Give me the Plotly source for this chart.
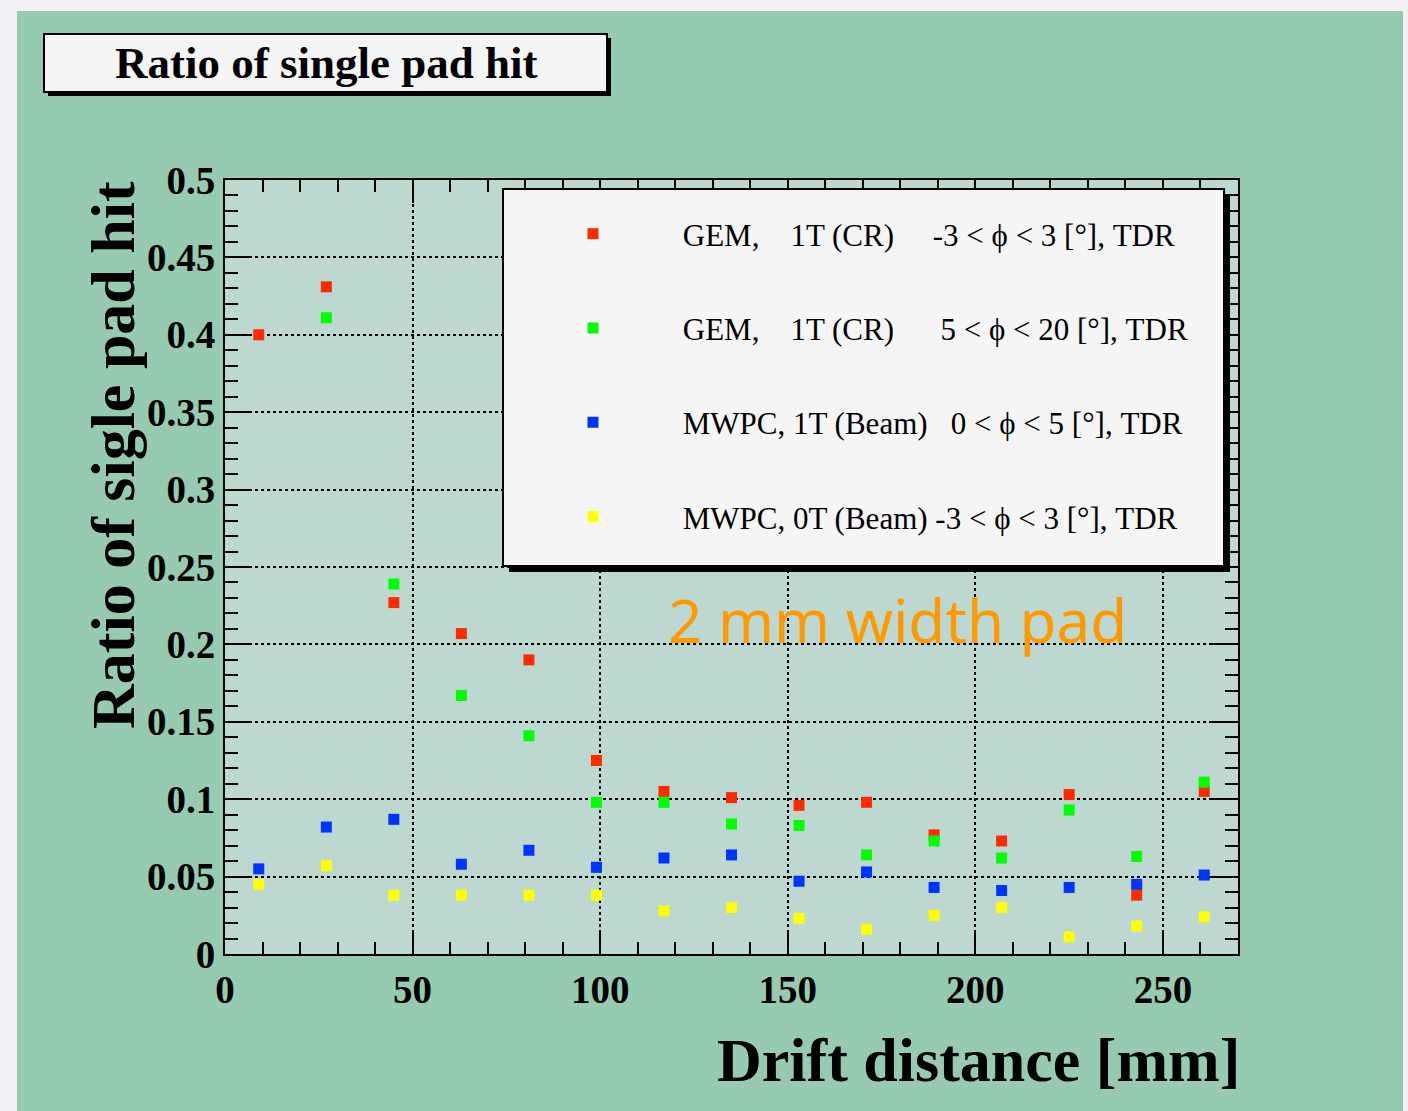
import plotly.graph_objects as go

# ---------------- data ----------------
drift_mm = [9, 27, 45, 63, 81, 99, 117, 135, 153, 171, 189, 207, 225, 243, 261]

gem_cr_m3_3 = [0.400, 0.431, 0.227, 0.207, 0.190, 0.125, 0.105, 0.101, 0.096, 0.098,
               0.077, 0.073, 0.103, 0.038, 0.105]
gem_cr_5_20 = [None, 0.411, 0.239, 0.167, 0.141, 0.098, 0.098, 0.084, 0.083, 0.064,
               0.073, 0.062, 0.093, 0.063, 0.111]
mwpc_1t_0_5 = [0.055, 0.082, 0.087, 0.058, 0.067, 0.056, 0.062, 0.064, 0.047, 0.053,
               0.043, 0.041, 0.043, 0.045, 0.051]
mwpc_0t_m3_3 = [0.045, 0.057, 0.038, 0.038, 0.038, 0.038, 0.028, 0.030, 0.023, 0.016,
                0.025, 0.030, 0.011, 0.018, 0.024]

NB = "\u00a0"
LEAD = NB * 9
series_names = [
    LEAD + "GEM," + NB * 4 + "1T (CR)" + NB * 5 + "-3 < \u03d5 < 3 [°], TDR",
    LEAD + "GEM," + NB * 4 + "1T (CR)" + NB * 5 + " 5 < \u03d5 < 20 [°], TDR",
    LEAD + "MWPC, 1T (Beam)" + NB * 3 + "0 < \u03d5 < 5 [°], TDR",
    LEAD + "MWPC, 0T (Beam) -3 < \u03d5 < 3 [°], TDR",
]
series_values = [gem_cr_m3_3, gem_cr_5_20, mwpc_1t_0_5, mwpc_0t_m3_3]
series_colors = ["#ff2a00", "#00ff00", "#0033ff", "#ffff00"]

y_tickvals = [0, 0.05, 0.1, 0.15, 0.2, 0.25, 0.3, 0.35, 0.4, 0.45, 0.5]
y_ticktext = ["0", "0.05", "0.1", "0.15", "0.2", "0.25", "0.3", "0.35", "0.4", "0.45", "0.5"]
x_tickvals = [0, 50, 100, 150, 200, 250]
x_ticktext = ["0", "50", "100", "150", "200", "250"]

# ---------------- layout geometry ----------------
W, H = 1408, 1111
L, R, T, B = 225, 1238, 180, 954


def px(x):
    return (x - L) / (R - L)


def py(y):
    return (B - y) / (B - T)


SERIF = "Liberation Serif, Times New Roman, serif"

fig = go.Figure()
for name, vals, col in zip(series_names, series_values, series_colors):
    fig.add_trace(go.Scatter(
        x=drift_mm, y=vals, mode="markers", name=name,
        legendgroup=name,
        marker=dict(symbol="square", size=11, color=col, line=dict(width=0)),
    ))

shapes = [
    # light slide strips outside the green panel
    dict(type="rect", xref="paper", yref="paper", x0=px(0), x1=px(17), y0=py(1111), y1=py(0),
         fillcolor="#f1f1f6", line=dict(width=0), layer="below"),
    dict(type="rect", xref="paper", yref="paper", x0=px(0), x1=px(1408), y0=py(11), y1=py(0),
         fillcolor="#f1f1f6", line=dict(width=0), layer="below"),
    dict(type="rect", xref="paper", yref="paper", x0=px(1403), x1=px(1408), y0=py(1111), y1=py(0),
         fillcolor="#f1f1f6", line=dict(width=0), layer="below"),
    # title box shadow + box
    dict(type="rect", xref="paper", yref="paper", x0=px(48), x1=px(611), y0=py(96), y1=py(38),
         fillcolor="black", line=dict(width=0)),
    dict(type="rect", xref="paper", yref="paper", x0=px(44), x1=px(607), y0=py(92), y1=py(34),
         fillcolor="#f5f5f5", line=dict(color="black", width=2)),
    # legend box shadow + box
    dict(type="rect", xref="paper", yref="paper", x0=px(509), x1=px(1230), y0=py(572), y1=py(195),
         fillcolor="black", line=dict(width=0), layer="above"),
    dict(type="rect", xref="paper", yref="paper", x0=px(503), x1=px(1224), y0=py(566), y1=py(189),
         fillcolor="#f5f5f5", line=dict(color="black", width=2), layer="above"),
]

annotations = [
    dict(text="<b>Ratio of single pad hit</b>", xref="paper", yref="paper",
         x=px(326), y=py(63), xanchor="center", yanchor="middle", showarrow=False,
         font=dict(family=SERIF, size=45, color="black")),
    dict(text="<b>Ratio of sigle pad hit</b>", xref="paper", yref="paper",
         x=px(113), y=py(455), xanchor="center", yanchor="middle", showarrow=False,
         textangle=-90, font=dict(family=SERIF, size=62, color="black")),
    dict(text="<b>Drift distance [mm]</b>", xref="paper", yref="paper",
         x=px(1242), y=py(1060), xanchor="right", yanchor="middle", showarrow=False,
         font=dict(family=SERIF, size=62, color="black")),
    dict(text="2 mm width pad", xref="paper", yref="paper",
         x=px(897), y=py(620), xanchor="center", yanchor="middle", showarrow=False,
         font=dict(family="Noto Sans, sans-serif", size=60, color="#ff9900")),
]

axis_common = dict(
    showline=True, linecolor="black", linewidth=2, mirror="allticks",
    ticks="inside", tickcolor="black", tickwidth=1.5,
    showgrid=True, gridcolor="black", gridwidth=1.5, griddash="dot",
    zeroline=False,
    tickfont=dict(family=SERIF, size=39, color="black", weight="bold"),
)

fig.update_layout(
    width=W, height=H,
    margin=dict(l=L, r=W - R, t=T, b=H - B),
    paper_bgcolor="#96cbb2",
    plot_bgcolor="#bdd8d0",
    shapes=shapes,
    annotations=annotations,
    showlegend=True,
    legend=dict(
        x=px(573), y=py(207), xanchor="left", yanchor="top",
        bgcolor="rgba(0,0,0,0)", borderwidth=0,
        font=dict(family=SERIF, size=31, color="black"),
        traceorder="grouped", tracegroupgap=51,
        itemsizing="trace",
    ),
    xaxis=dict(
        range=[0, 270], tickvals=x_tickvals, ticktext=x_ticktext, ticklen=23,
        minor=dict(dtick=10, ticklen=12, ticks="inside", tickcolor="black", tickwidth=1.5, showgrid=False),
        **axis_common,
    ),
    yaxis=dict(
        range=[0, 0.5], tickvals=y_tickvals, ticktext=y_ticktext, ticklen=27,
        minor=dict(dtick=0.01, ticklen=13, ticks="inside", tickcolor="black", tickwidth=1.5, showgrid=False),
        **axis_common,
    ),
)

fig.write_html("out.html")
